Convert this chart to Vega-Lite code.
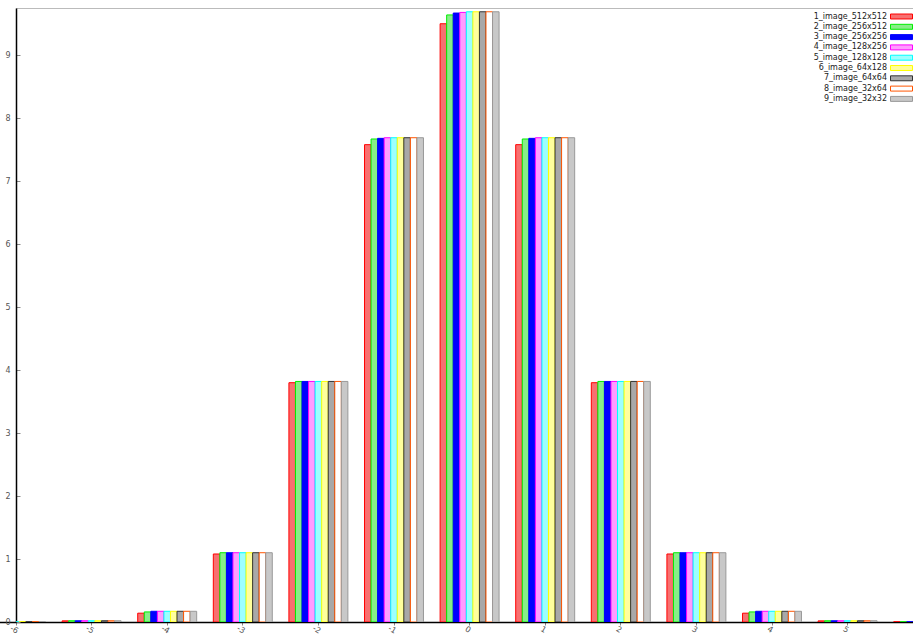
{
  "$schema": "https://vega.github.io/schema/vega-lite/v6.json",
  "width": 897,
  "height": 614,
  "autosize": {"type": "none"},
  "padding": {"left": 16, "top": 8, "right": 0, "bottom": 12},
  "config": {"view": {"stroke": "#bbbbbb"}, "font": "DejaVu Sans"},
  "data": {"values": [
    {"c": -6, "s": "1_image_512x512", "v": 0.004}, {"c": -6, "s": "2_image_256x512", "v": 0.004}, {"c": -6, "s": "3_image_256x256", "v": 0.004}, {"c": -6, "s": "4_image_128x256", "v": 0.004}, {"c": -6, "s": "5_image_128x128", "v": 0.004}, {"c": -6, "s": "6_image_64x128", "v": 0.004}, {"c": -6, "s": "7_image_64x64", "v": 0.004}, {"c": -6, "s": "8_image_32x64", "v": 0.004}, {"c": -6, "s": "9_image_32x32", "v": 0.004},
    {"c": -5, "s": "1_image_512x512", "v": 0.018}, {"c": -5, "s": "2_image_256x512", "v": 0.02}, {"c": -5, "s": "3_image_256x256", "v": 0.02}, {"c": -5, "s": "4_image_128x256", "v": 0.02}, {"c": -5, "s": "5_image_128x128", "v": 0.02}, {"c": -5, "s": "6_image_64x128", "v": 0.02}, {"c": -5, "s": "7_image_64x64", "v": 0.02}, {"c": -5, "s": "8_image_32x64", "v": 0.02}, {"c": -5, "s": "9_image_32x32", "v": 0.02},
    {"c": -4, "s": "1_image_512x512", "v": 0.14}, {"c": -4, "s": "2_image_256x512", "v": 0.16}, {"c": -4, "s": "3_image_256x256", "v": 0.17}, {"c": -4, "s": "4_image_128x256", "v": 0.17}, {"c": -4, "s": "5_image_128x128", "v": 0.17}, {"c": -4, "s": "6_image_64x128", "v": 0.17}, {"c": -4, "s": "7_image_64x64", "v": 0.17}, {"c": -4, "s": "8_image_32x64", "v": 0.17}, {"c": -4, "s": "9_image_32x32", "v": 0.17},
    {"c": -3, "s": "1_image_512x512", "v": 1.08}, {"c": -3, "s": "2_image_256x512", "v": 1.1}, {"c": -3, "s": "3_image_256x256", "v": 1.1}, {"c": -3, "s": "4_image_128x256", "v": 1.1}, {"c": -3, "s": "5_image_128x128", "v": 1.1}, {"c": -3, "s": "6_image_64x128", "v": 1.1}, {"c": -3, "s": "7_image_64x64", "v": 1.1}, {"c": -3, "s": "8_image_32x64", "v": 1.1}, {"c": -3, "s": "9_image_32x32", "v": 1.1},
    {"c": -2, "s": "1_image_512x512", "v": 3.8}, {"c": -2, "s": "2_image_256x512", "v": 3.82}, {"c": -2, "s": "3_image_256x256", "v": 3.82}, {"c": -2, "s": "4_image_128x256", "v": 3.82}, {"c": -2, "s": "5_image_128x128", "v": 3.82}, {"c": -2, "s": "6_image_64x128", "v": 3.82}, {"c": -2, "s": "7_image_64x64", "v": 3.82}, {"c": -2, "s": "8_image_32x64", "v": 3.82}, {"c": -2, "s": "9_image_32x32", "v": 3.82},
    {"c": -1, "s": "1_image_512x512", "v": 7.58}, {"c": -1, "s": "2_image_256x512", "v": 7.67}, {"c": -1, "s": "3_image_256x256", "v": 7.68}, {"c": -1, "s": "4_image_128x256", "v": 7.69}, {"c": -1, "s": "5_image_128x128", "v": 7.69}, {"c": -1, "s": "6_image_64x128", "v": 7.69}, {"c": -1, "s": "7_image_64x64", "v": 7.69}, {"c": -1, "s": "8_image_32x64", "v": 7.69}, {"c": -1, "s": "9_image_32x32", "v": 7.69},
    {"c": 0, "s": "1_image_512x512", "v": 9.5}, {"c": 0, "s": "2_image_256x512", "v": 9.64}, {"c": 0, "s": "3_image_256x256", "v": 9.67}, {"c": 0, "s": "4_image_128x256", "v": 9.68}, {"c": 0, "s": "5_image_128x128", "v": 9.69}, {"c": 0, "s": "6_image_64x128", "v": 9.69}, {"c": 0, "s": "7_image_64x64", "v": 9.69}, {"c": 0, "s": "8_image_32x64", "v": 9.69}, {"c": 0, "s": "9_image_32x32", "v": 9.69},
    {"c": 1, "s": "1_image_512x512", "v": 7.58}, {"c": 1, "s": "2_image_256x512", "v": 7.67}, {"c": 1, "s": "3_image_256x256", "v": 7.68}, {"c": 1, "s": "4_image_128x256", "v": 7.69}, {"c": 1, "s": "5_image_128x128", "v": 7.69}, {"c": 1, "s": "6_image_64x128", "v": 7.69}, {"c": 1, "s": "7_image_64x64", "v": 7.69}, {"c": 1, "s": "8_image_32x64", "v": 7.69}, {"c": 1, "s": "9_image_32x32", "v": 7.69},
    {"c": 2, "s": "1_image_512x512", "v": 3.8}, {"c": 2, "s": "2_image_256x512", "v": 3.82}, {"c": 2, "s": "3_image_256x256", "v": 3.82}, {"c": 2, "s": "4_image_128x256", "v": 3.82}, {"c": 2, "s": "5_image_128x128", "v": 3.82}, {"c": 2, "s": "6_image_64x128", "v": 3.82}, {"c": 2, "s": "7_image_64x64", "v": 3.82}, {"c": 2, "s": "8_image_32x64", "v": 3.82}, {"c": 2, "s": "9_image_32x32", "v": 3.82},
    {"c": 3, "s": "1_image_512x512", "v": 1.08}, {"c": 3, "s": "2_image_256x512", "v": 1.1}, {"c": 3, "s": "3_image_256x256", "v": 1.1}, {"c": 3, "s": "4_image_128x256", "v": 1.1}, {"c": 3, "s": "5_image_128x128", "v": 1.1}, {"c": 3, "s": "6_image_64x128", "v": 1.1}, {"c": 3, "s": "7_image_64x64", "v": 1.1}, {"c": 3, "s": "8_image_32x64", "v": 1.1}, {"c": 3, "s": "9_image_32x32", "v": 1.1},
    {"c": 4, "s": "1_image_512x512", "v": 0.14}, {"c": 4, "s": "2_image_256x512", "v": 0.16}, {"c": 4, "s": "3_image_256x256", "v": 0.17}, {"c": 4, "s": "4_image_128x256", "v": 0.17}, {"c": 4, "s": "5_image_128x128", "v": 0.17}, {"c": 4, "s": "6_image_64x128", "v": 0.17}, {"c": 4, "s": "7_image_64x64", "v": 0.17}, {"c": 4, "s": "8_image_32x64", "v": 0.17}, {"c": 4, "s": "9_image_32x32", "v": 0.17},
    {"c": 5, "s": "1_image_512x512", "v": 0.018}, {"c": 5, "s": "2_image_256x512", "v": 0.02}, {"c": 5, "s": "3_image_256x256", "v": 0.02}, {"c": 5, "s": "4_image_128x256", "v": 0.02}, {"c": 5, "s": "5_image_128x128", "v": 0.02}, {"c": 5, "s": "6_image_64x128", "v": 0.02}, {"c": 5, "s": "7_image_64x64", "v": 0.02}, {"c": 5, "s": "8_image_32x64", "v": 0.02}, {"c": 5, "s": "9_image_32x32", "v": 0.02},
    {"c": 6, "s": "1_image_512x512", "v": 0.004}, {"c": 6, "s": "2_image_256x512", "v": 0.004}, {"c": 6, "s": "3_image_256x256", "v": 0.004}, {"c": 6, "s": "4_image_128x256", "v": 0.004}, {"c": 6, "s": "5_image_128x128", "v": 0.004}, {"c": 6, "s": "6_image_64x128", "v": 0.004}, {"c": 6, "s": "7_image_64x64", "v": 0.004}, {"c": 6, "s": "8_image_32x64", "v": 0.004}, {"c": 6, "s": "9_image_32x32", "v": 0.004}
  ]},
  "mark": {"type": "bar", "clip": true, "strokeWidth": 1},
  "encoding": {
    "x": {
      "field": "c", "type": "ordinal",
      "scale": {"domain": [-6, -5, -4, -3, -2, -1, 0, 1, 2, 3, 4, 5, 6], "range": [-37.8, 945], "paddingInner": 0.22, "paddingOuter": 0.11},
      "axis": {"title": null, "values": [-6, -5, -4, -3, -2, -1, 0, 1, 2, 3, 4, 5], "labelAngle": 30, "labelAlign": "center", "labelBaseline": "top", "labelFontSize": 8, "labelColor": "#555555", "tickSize": 3, "tickColor": "#888888", "domainColor": "#000000", "domainWidth": 1.5, "labelPadding": 1, "grid": false}
    },
    "xOffset": {"field": "s", "type": "nominal", "scale": {"paddingInner": 0, "paddingOuter": 0}},
    "y": {
      "field": "v", "type": "quantitative",
      "scale": {"domain": [0, 9.75], "nice": false},
      "axis": {"title": null, "values": [0, 1, 2, 3, 4, 5, 6, 7, 8, 9], "grid": false, "tickSize": -4, "tickColor": "#888888", "domainColor": "#000000", "domainWidth": 1.5, "labelFontSize": 8, "labelColor": "#555555", "labelPadding": 10}
    },
    "fill": {
      "field": "s", "type": "nominal",
      "scale": {"range": ["#f77070", "#88ee88", "#0000ff", "#ff9cff", "#9cffff", "#ffff9c", "#a8a8a8", "#ffffff", "#c8c8c8"]},
      "legend": {"title": null, "orient": "none", "legendX": 881, "legendY": 4, "padding": 0, "symbolType": "M-2.75,-0.62H2.75V0.62H-2.75Z", "symbolSize": 64, "symbolStrokeWidth": 1, "labelFontSize": 8, "labelAlign": "right", "labelOffset": -19, "rowPadding": 1.3, "labelColor": "#222222"}
    },
    "stroke": {
      "field": "s", "type": "nominal",
      "scale": {"range": ["#ff0000", "#00ee00", "#0000ff", "#ff00ff", "#00ffff", "#ffff00", "#333333", "#ff5500", "#999999"]},
      "legend": {"title": null, "orient": "none", "legendX": 881, "legendY": 4, "padding": 0, "symbolType": "M-2.75,-0.62H2.75V0.62H-2.75Z", "symbolSize": 64, "symbolStrokeWidth": 1, "labelFontSize": 8, "labelAlign": "right", "labelOffset": -19, "rowPadding": 1.3, "labelColor": "#222222"}
    }
  }
}
